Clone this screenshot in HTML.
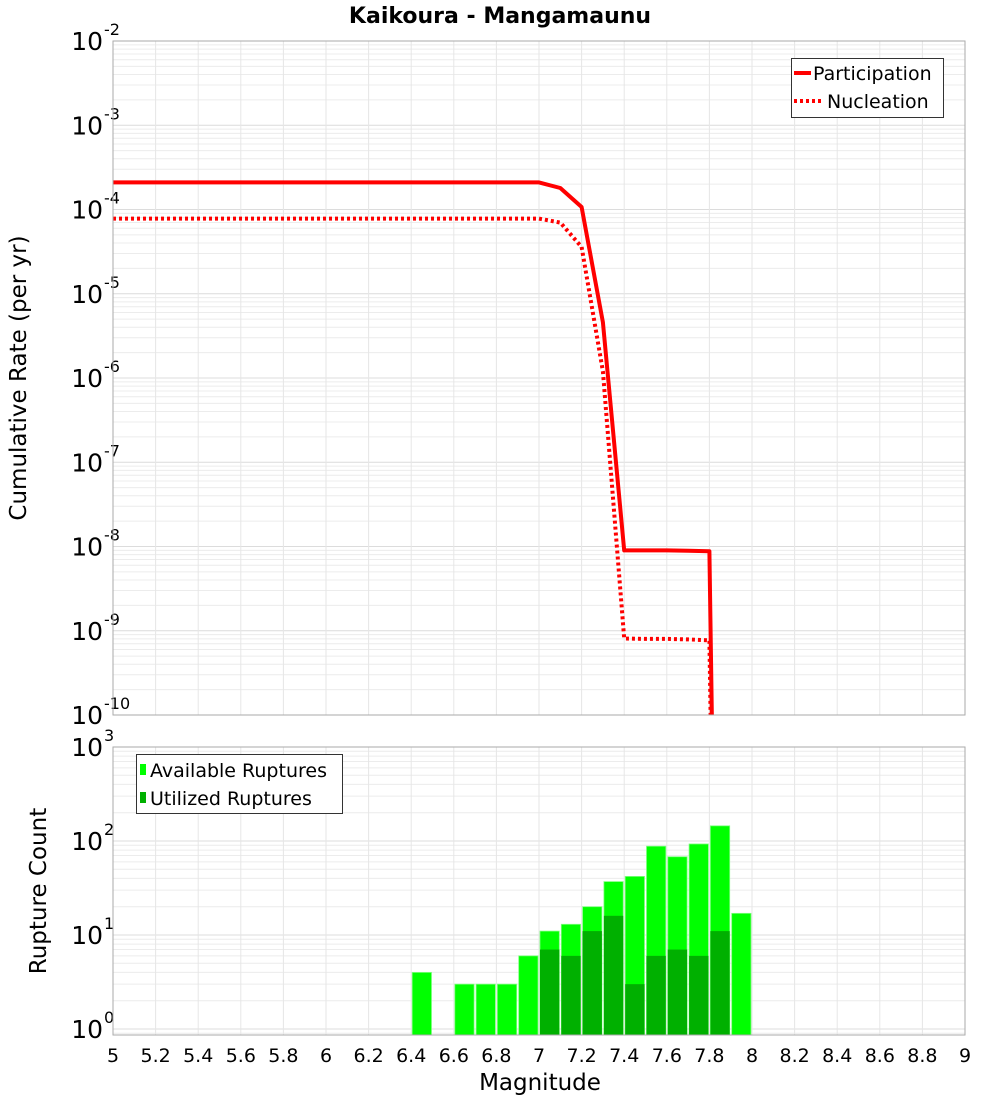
<!DOCTYPE html>
<html><head><meta charset="utf-8"><style>
body{margin:0;background:#fff;font-family:"Liberation Sans","DejaVu Sans",sans-serif;}
svg text{font-family:"DejaVu Sans","Liberation Sans",sans-serif;}
</style></head><body>
<svg id="c" width="1000" height="1100" xmlns="http://www.w3.org/2000/svg">
<text x="500" y="23" text-anchor="middle" font-size="22" font-weight="bold">Kaikoura - Mangamaunu</text>
<g id="topG"></g>
<g id="botG"></g>
<text transform="translate(26,378) rotate(-90)" text-anchor="middle" font-size="23">Cumulative Rate (per yr)</text>
<text transform="translate(46,891) rotate(-90)" text-anchor="middle" font-size="23">Rupture Count</text>
<text x="540" y="1090" text-anchor="middle" font-size="23">Magnitude</text>
</svg>
<script>
const magX=[5.0,7.0,7.1,7.2,7.3,7.4,7.5,7.6,7.7,7.8,7.9];
const participation=[2.1e-4,2.1e-4,1.8e-4,1.07e-4,4.6e-6,9e-9,9e-9,9e-9,8.9e-9,8.8e-9,1e-25];
const nucleation=[7.8e-5,7.8e-5,7e-5,3.6e-5,1.2e-6,8.1e-10,8e-10,8e-10,7.9e-10,7.7e-10,1e-25];
const binCenters=[6.45,6.65,6.75,6.85,6.95,7.05,7.15,7.25,7.35,7.45,7.55,7.65,7.75,7.85,7.95];
const available=[4,3,3,3,6,11,13,20,37,42,88,68,93,145,17];
const utilized=[0,0,0,0,0,7,6,11,16,3,6,7,6,11,0];
const xTicks=["5","5.2","5.4","5.6","5.8","6","6.2","6.4","6.6","6.8","7","7.2","7.4","7.6","7.8","8","8.2","8.4","8.6","8.8","9"];

const NS="http://www.w3.org/2000/svg";
function mk(tag,attrs,parent){const e=document.createElementNS(NS,tag);for(const k in attrs)e.setAttribute(k,attrs[k]);parent.appendChild(e);return e;}
const L=113,R=965;
const xs=m=>L+(m-5)/4*(R-L);
const T1=41,B1=715,yTop=l=>T1+(-2-Math.log10(l))*(B1-T1)/8;
const T2=747,B2=1035,D0=1029,yBot=v=>D0-Math.log10(v)*(D0-T2)/3;
const svgEl=document.getElementById('c');
const topG=document.getElementById('topG'),botG=document.getElementById('botG');
const defs=mk('defs',{},svgEl);
const cp1=mk('clipPath',{id:'cp1'},defs);mk('rect',{x:L,y:T1,width:R-L,height:B1-T1},cp1);
const cp2=mk('clipPath',{id:'cp2'},defs);mk('rect',{x:L,y:T2,width:R-L,height:B2-T2},cp2);

function grid(g,T,B,yf,dmin,dmax){
  for(let d=dmin;d<=dmax;d++){for(let k=1;k<10;k++){const y=yf(k*Math.pow(10,d));if(y<T-0.5||y>B+0.5)continue;
    const ln=mk('line',{x1:L,x2:R,y1:y,y2:y,stroke:k==1?'#dcdcdc':'#ececec','stroke-width':1},g);
    
    }}
  for(let i=1;i<20;i++){const x=xs(5+i*0.2);const ln=mk('line',{x1:x,x2:x,y1:T,y2:B,stroke:'#e6e6e6','stroke-width':1},g);
    
    }
}
function ylab(g,y,exp){const t=mk('text',{x:103,y:y+9,'text-anchor':'end','font-size':25},g);t.textContent='10';
  
  
  const s=mk('text',{x:104,y:y-6,'font-size':16},g);s.textContent=exp;
  
  }

grid(topG,T1,B1,yTop,-11,-2);
for(let e=-2;e>=-10;e--)ylab(topG,yTop(Math.pow(10,e)),String(e));
const pg=mk('g',{'clip-path':'url(#cp1)'},topG);
function line(vals,dash,name){const d=magX.map((m,i)=>(i?'L':'M')+xs(m).toFixed(1)+','+yTop(vals[i]).toFixed(1)).join(' ');
  const p=mk('path',{d:d,fill:'none',stroke:'#ff0000','stroke-width':4,'stroke-linejoin':'round'},pg);if(dash)p.setAttribute('stroke-dasharray',dash);
  
  }
line(participation,null,'participation-line');line(nucleation,'3,3','nucleation-line');
let f=mk('rect',{x:L,y:T1,width:R-L,height:B1-T1,fill:'none',stroke:'#aaa'},topG);


const lg=mk('g',{},topG);


mk('rect',{x:791.5,y:58.5,width:152,height:59,fill:'#fff',stroke:'#333'},lg);
mk('line',{x1:794,x2:811,y1:73,y2:73,stroke:'#f00','stroke-width':4},lg);
mk('line',{x1:794,x2:821,y1:101,y2:101,stroke:'#f00','stroke-width':4,'stroke-dasharray':'3,3'},lg);
let t=mk('text',{x:813,y:80,'font-size':19},lg);t.textContent='Participation';


t=mk('text',{x:827,y:108,'font-size':19},lg);t.textContent='Nucleation';



grid(botG,T2,B2,yBot,-1,3);
for(let e=3;e>=0;e--)ylab(botG,yBot(Math.pow(10,e)),String(e));
const bg=mk('g',{'clip-path':'url(#cp2)'},botG);
const bw=(R-L)/40;
binCenters.forEach((c,i)=>{const x=xs(c)-bw/2+1;
  const r=mk('rect',{x:x,y:yBot(available[i]),width:bw-2,height:B2-yBot(available[i]),fill:'#00ff00',stroke:'#7fff7f','stroke-width':0.8},bg);
  
  
  if(utilized[i]>0){const u=mk('rect',{x:x,y:yBot(utilized[i]),width:bw-2,height:B2-yBot(utilized[i]),fill:'#00b000'},bg);
  
  }
});
f=mk('rect',{x:L,y:T2,width:R-L,height:B2-T2,fill:'none',stroke:'#aaa'},botG);


xTicks.forEach((s,i)=>{const tt=mk('text',{x:xs(5+i*0.2),y:1062,'text-anchor':'middle','font-size':19},botG);tt.textContent=s;
  
  });
const lb=mk('g',{},botG);


mk('rect',{x:136.5,y:754.5,width:206,height:59,fill:'#fff',stroke:'#333'},lb);
mk('rect',{x:140,y:764,width:6,height:11,fill:'#00ff00'},lb);
mk('rect',{x:140,y:792,width:6,height:11,fill:'#00b000'},lb);
t=mk('text',{x:150,y:777,'font-size':19},lb);t.textContent='Available Ruptures';


t=mk('text',{x:150,y:805,'font-size':19},lb);t.textContent='Utilized Ruptures';


</script>
</body></html>
